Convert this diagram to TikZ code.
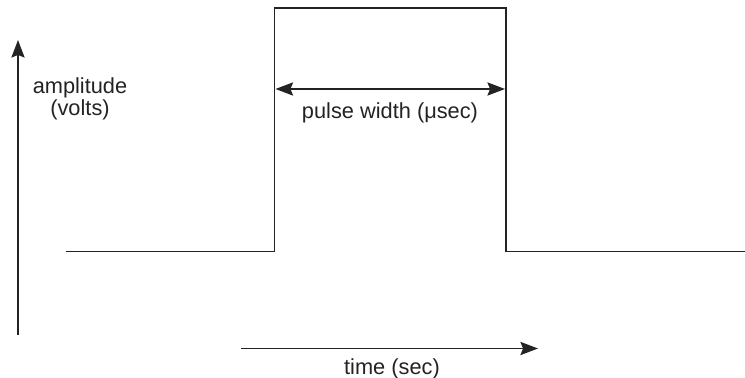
\documentclass[tikz,border=0pt]{standalone}
\usepackage{fontspec}
\setmainfont{Liberation Sans}
\usepackage{tikz}
\usepackage{xcolor}
\usetikzlibrary{positioning,arrows.meta,calc}
\definecolor{pulseink}{RGB}{35,35,35}

\begin{document}
\begin{tikzpicture}[
      x=0.02cm, y=-0.02cm,
      signal/.style={line width=1pt, draw=pulseink, line join=miter},
      arrow/.style={-{Stealth[length=10pt,width=7.5pt,inset=1.5pt]}, line width=1pt, draw=pulseink},
      dblarrow/.style={{Stealth[length=10pt,width=7.5pt,inset=1.5pt]}-{Stealth[length=10pt,width=7.5pt,inset=1.5pt]}, line width=1pt, draw=pulseink},
      lbl/.style={font=\fontsize{12.4}{10.5}\selectfont, text=pulseink, align=center, inner sep=0pt}
    ]
      \useasboundingbox (0,0) rectangle (745,378);
      % pulse outline
      \coordinate (start) at (66,251.5);
      \coordinate (rise) at (274.5,251.5);
      \coordinate (topl) at (274.5,8);
      \coordinate (topr) at (506,8);
      \coordinate (fall) at (506,251.5);
      \coordinate (stop) at (745,251.5);
      \draw[signal] (start) -- (rise) -- (topl) -- (topr) -- (fall) -- (stop);
      % axes
      \coordinate (ybot) at (18,335);
      \coordinate (ytop) at (18,40);
      \draw[arrow] (ybot) -- (ytop);
      \coordinate (tleft) at (241,348.5);
      \coordinate (tright) at (538,348.5);
      \draw[arrow] (tleft) -- (tright);
      % width marker
      \coordinate (wl) at (275.5,89);
      \coordinate (wr) at (505,89);
      \draw[dblarrow] (wl) -- (wr);
      \node[lbl] (width) at (390,113) {pulse width (μsec)};
      \node[lbl] (amp) at (80,99) {amplitude\\(volts)};
      \node[lbl] (time) at (392,369) {time (sec)};
    \end{tikzpicture}
\end{document}
